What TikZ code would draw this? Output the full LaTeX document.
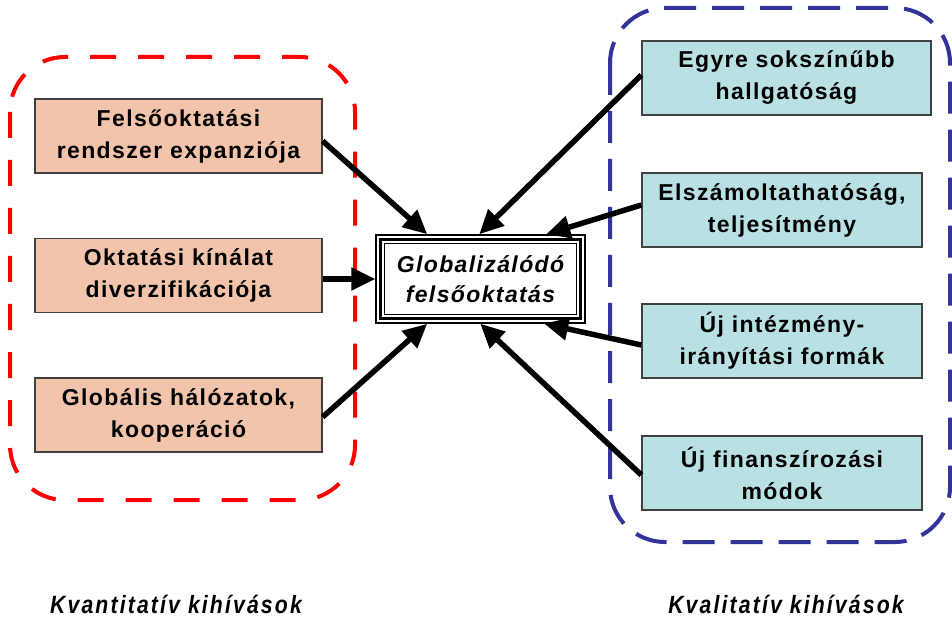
\documentclass[tikz,border=0pt]{standalone}
\usepackage{fontspec}
\usetikzlibrary{arrows.meta}
\newfontfamily\boxfont[LetterSpace=6]{Liberation Sans}
\newfontfamily\capfont[LetterSpace=10]{Liberation Sans}
\definecolor{salmon}{HTML}{F2C4AC}
\definecolor{paleteal}{HTML}{B9E0E2}
\definecolor{navydash}{HTML}{333399}
\definecolor{edgegray}{HTML}{404040}
\begin{document}
\begin{tikzpicture}[x=1pt,y=-1pt,
  itembox/.style={draw=edgegray, line width=1.3pt, inner sep=0pt, align=center,
    font=\boxfont\bfseries\fontsize{23}{32}\selectfont},
  leftbox/.style={itembox, fill=salmon, minimum width=287pt, minimum height=74pt},
  rightbox/.style={itembox, fill=paleteal, minimum width=280pt, minimum height=74pt},
  link/.style={line width=5.5pt, -{Triangle[length=24pt,width=22pt]}},
  groupframe/.style={line width=4pt, rounded corners=55pt},
  caption/.style={inner sep=0pt, font=\capfont\bfseries\itshape\fontsize{25}{30}\selectfont}]
\useasboundingbox (0,0) rectangle (952,617);

% dashed group frames
\draw[groupframe, red, dash pattern=on 26pt off 22pt] (10,57) rectangle (355,500);
\draw[groupframe, navydash, dash pattern=on 32pt off 16pt] (610,8) rectangle (950,542);

% quantitative factors
\node[leftbox] (L1) at (178.5,136) {Felsőoktatási\\rendszer expanziója};
\node[leftbox] (L2) at (178.5,275.5) {Oktatási kínálat\\diverzifikációja};
\node[leftbox] (L3) at (178.5,415) {Globális hálózatok,\\kooperáció};

% qualitative factors
\node[rightbox, minimum width=289pt] (R1) at (786.5,78) {Egyre sokszínűbb\\hallgatóság};
\node[rightbox] (R2) at (782,210) {Elszámoltathatóság,\\teljesítmény};
\node[rightbox] (R3) at (782,341) {Új intézmény-\\irányítási formák};
\node[rightbox] (R4) at (782,473) {Új finanszírozási\\módok};

% central concept with triple border
\node[draw, line width=1.5pt, minimum width=209pt, minimum height=88pt, inner sep=0pt,
      align=center, font=\boxfont\bfseries\itshape\fontsize{23}{30}\selectfont]
      (C) at (480.5,279) {Globalizálódó\\felsőoktatás};
\draw[line width=3pt] ([shift={(5.5pt,-5.5pt)}]C.north west) rectangle ([shift={(-5.5pt,5.5pt)}]C.south east);
\draw[line width=1.2pt] ([shift={(9.5pt,-9.5pt)}]C.north west) rectangle ([shift={(-9.5pt,9.5pt)}]C.south east);

% influences
\draw[link] ([yshift=-5pt]L1.east) -- ([xshift=52pt]C.north west);
\draw[link] (L2.east |- C.west) -- (C.west);
\draw[link] ([yshift=-2pt]L3.east) -- ([xshift=52pt]C.south west);
\draw[link] ([yshift=3pt]R1.west) -- ([xshift=104pt]C.north west);
\draw[link] ([yshift=5pt]R2.west) -- ([xshift=171pt]C.north west);
\draw[link] ([yshift=-4pt]R3.west) -- ([xshift=169pt]C.south west);
\draw[link] ([yshift=-2pt]R4.west) -- ([xshift=105pt]C.south west);

% group captions
\node[caption] (KQ) at (176,604) {\scalebox{0.85}[1]{Kvantitatív kihívások}};
\node[caption] (KL) at (786,604) {\scalebox{0.85}[1]{Kvalitatív kihívások}};
\end{tikzpicture}
\end{document}
